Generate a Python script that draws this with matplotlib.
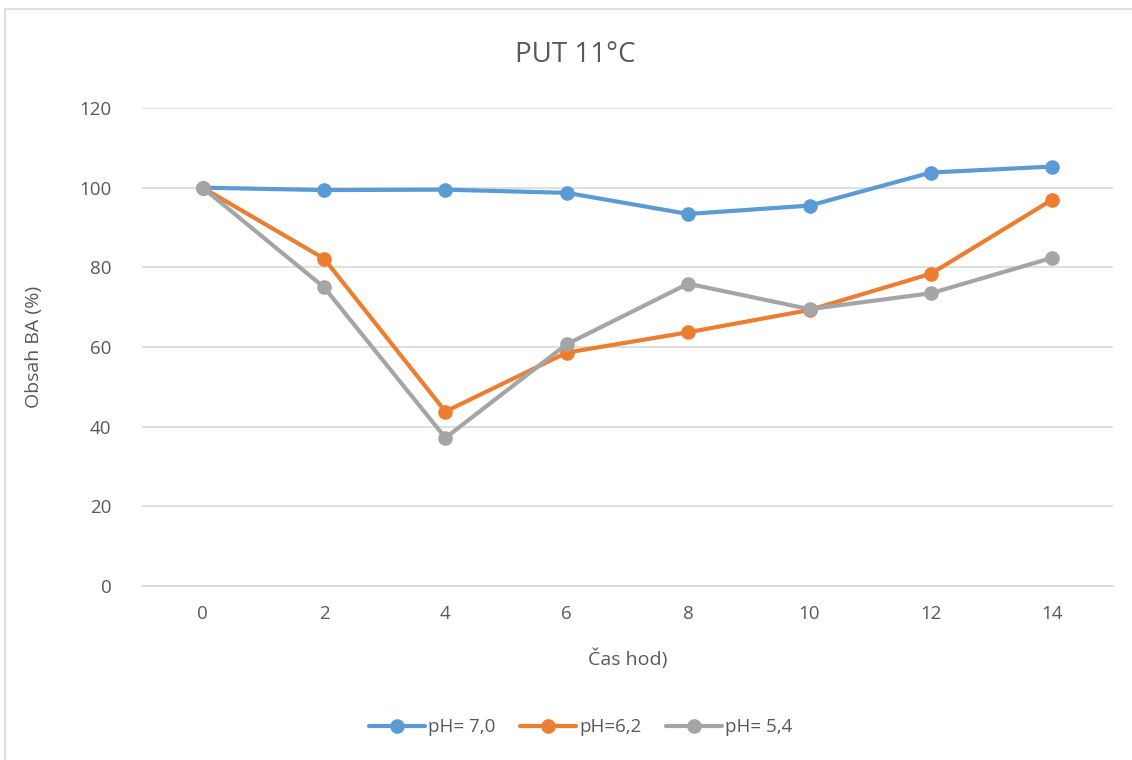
import matplotlib.pyplot as plt
from matplotlib.patches import Rectangle

# data
hours = [0, 2, 4, 6, 8, 10, 12, 14]
ph70 = [100, 99.4, 99.5, 98.7, 93.4, 95.5, 103.8, 105.3]
ph62 = [100, 82.2, 43.8, 58.6, 63.7, 69.3, 78.4, 97.0]
ph54 = [100, 75.0, 37.2, 60.7, 75.9, 69.5, 73.5, 82.4]
labels = ["pH= 7,0", "pH=6,2", "pH= 5,4"]
colors = ["#5B9BD5", "#ED7D31", "#A5A5A5"]

txt = "#595959"
plt.rcParams['font.family'] = ['Open Sans', 'DejaVu Sans']

fig = plt.figure(figsize=(11.32, 7.6), dpi=100)
ax = fig.add_axes([0.1254, 0.2289, 0.8578, 0.629])

# outer chart border like Excel
fig.patches.append(Rectangle((0.004, -0.01), 1.0, 0.998, transform=fig.transFigure,
                             fill=False, edgecolor="#D9D9D9", linewidth=1.2))

x = range(len(hours))
for ys, lab, c in zip([ph70, ph62, ph54], labels, colors):
    ax.plot(x, ys, color=c, lw=3, marker="o", ms=9.5, label=lab, solid_capstyle="round")

ax.set_xlim(-0.5, len(hours) - 0.5)
ax.set_ylim(0, 120)
ax.set_yticks(range(0, 121, 20))
ax.set_xticks(list(x))
ax.set_xticklabels([str(h) for h in hours])
ax.grid(axis="y", color="#D9D9D9", lw=1.2)
ax.set_axisbelow(True)
for s in ["top", "right", "left"]:
    ax.spines[s].set_visible(False)
ax.spines["bottom"].set_color("#D9D9D9")
ax.spines["bottom"].set_linewidth(1.2)
ax.tick_params(length=0, labelsize=13.5, colors=txt, pad=14)
ax.tick_params(axis="y", pad=22)

# title centred on the whole chart, as Excel does
fig.text(0.508, 0.928, "PUT 11°C", fontsize=20, color=txt, ha="center", va="center")
ax.set_xlabel("Čas hod)", fontsize=14, color=txt, labelpad=18)
ax.set_ylabel("Obsah BA (%)", fontsize=14, color=txt, labelpad=26)

fig.legend(loc="center", bbox_to_anchor=(0.513, 0.043), ncol=3, frameon=False,
           fontsize=13.5, labelcolor=txt, handlelength=3, columnspacing=1.3,
           handletextpad=0.15)

fig.savefig("out.png", dpi=100)
